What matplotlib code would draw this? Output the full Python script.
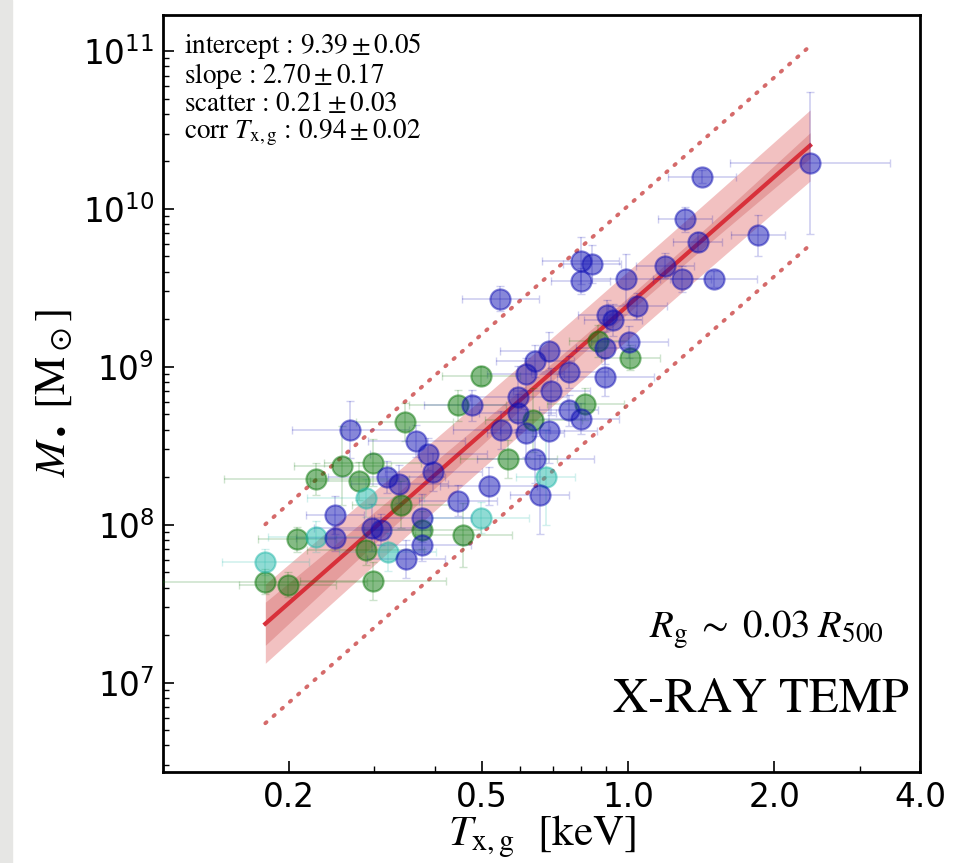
import numpy as np
import matplotlib
matplotlib.use('Agg')
import matplotlib.pyplot as plt
from matplotlib.ticker import FixedLocator, LogLocator, NullFormatter

plt.rcParams['mathtext.fontset'] = 'stix'

# fit results (log10 M = intercept + slope * log10 T)
intercept = 9.39
intercept_err = 0.05
slope = 2.70
slope_err = 0.17
scatter = 0.21

# blue sample: T [keV], M [Msun], errors in dex
T_blue = [0.268, 0.366, 0.318, 0.338, 0.249, 0.249, 0.297, 0.310, 0.349, 0.377,
          0.377, 0.446, 0.516, 0.388, 0.397, 0.478, 0.546, 0.644, 0.657, 0.548,
          0.615, 0.686, 0.592, 0.594, 0.615, 0.644, 0.686, 0.695, 0.757, 0.898,
          0.754, 0.798, 0.905, 0.898, 0.930, 1.006, 1.045, 0.992, 1.19, 1.29,
          1.50, 0.798, 0.844, 0.798, 1.31, 1.39, 1.42, 1.85, 2.37]
M_blue = [4.0e8, 3.4e8, 2.0e8, 1.8e8, 1.15e8, 8.2e7, 9.6e7, 9.3e7, 6.1e7, 1.1e8,
          7.4e7, 1.42e8, 1.77e8, 2.8e8, 2.16e8, 5.7e8, 2.7e9, 2.6e8, 1.55e8, 4.0e8,
          3.8e8, 3.9e8, 5.1e8, 6.4e8, 9.0e8, 1.09e9, 1.26e9, 7.0e8, 9.3e8, 8.6e8,
          5.3e8, 4.7e8, 2.12e9, 1.32e9, 1.98e9, 1.44e9, 2.43e9, 3.6e9, 4.36e9, 3.6e9,
          3.6e9, 4.7e9, 4.5e9, 3.5e9, 8.6e9, 6.2e9, 1.6e10, 6.8e9, 1.95e10]
ex_blue = [.12, .10, .12, .10, .06, .08, .12, .10, .08, .10,
           .10, .08, .10, .12, .10, .10, .08, .12, .06, .10,
           .08, .10, .08, .10, .08, .08, .10, .08, .08, .10,
           .06, .08, .06, .06, .06, .08, .06, .07, .06, .06,
           .09, .08, .06, .06, .055, .05, .07, .055, .165]
ey_blue = [.18, .10, .10, .12, .12, .08, .15, .10, .12, .15,
           .10, .10, .12, .10, .12, .10, .08, .15, .25, .12,
           .15, .20, .12, .20, .10, .10, .12, .15, .10, .12,
           .10, .10, .10, .10, .10, .10, .08, .16, .08, .08,
           .05, .15, .12, .08, .08, .06, .04, .13, .45]

# green sample
T_green = [0.347, 0.258, 0.298, 0.228, 0.279, 0.340, 0.208, 0.288, 0.179, 0.199,
           0.298, 0.377, 0.458, 0.497, 0.446, 0.567, 0.638, 0.817, 1.011, 0.869]
M_green = [4.5e8, 2.36e8, 2.47e8, 1.95e8, 1.9e8, 1.34e8, 8.1e7, 6.95e7, 4.36e7, 4.17e7,
           4.4e7, 9.3e7, 8.6e7, 8.8e8, 5.7e8, 2.6e8, 4.6e8, 5.8e8, 1.14e9, 1.46e9]
ex_green = [.10, .10, .10, .19, .10, .10, .08, .12, .21, .10,
            .15, .12, .10, .08, .10, .10, .10, .08, .06, .06]
ey_green = [.12, .25, .15, .10, .12, .15, .08, .10, .08, .08,
            .12, .12, .20, .06, .10, .12, .20, .10, .08, .10]

# cyan sample
T_cyan = [0.288, 0.228, 0.320, 0.179, 0.497, 0.676]
M_cyan = [1.48e8, 8.4e7, 6.7e7, 5.8e7, 1.11e8, 2.0e8]
ex_cyan = [.12, .10, .10, .09, .10, .06]
ey_cyan = [.12, .10, .12, .08, .10, .30]

xticks = [0.2, 0.5, 1.0, 2.0, 4.0]
xticklabels = ['0.2', '0.5', '1.0', '2.0', '4.0']


def dex_err(vals, dex):
    vals = np.array(vals)
    dex = np.array(dex)
    return np.vstack([vals - vals * 10**(-dex), vals * 10**dex - vals])


fig = plt.figure(figsize=(9.74, 8.63), dpi=100)
fig.patch.set_facecolor('white')
# grey strip at the left edge of the page
fig.patches.append(plt.Rectangle((0, 0), 0.012, 1, transform=fig.transFigure,
                                 color='#e6e6e4', zorder=0))
ax = fig.add_axes([0.167, 0.105, 0.778, 0.878])

# fit line, uncertainty bands and 3-sigma lines
all_T = T_blue + T_green + T_cyan
tt = np.logspace(np.log10(min(all_T)), np.log10(max(all_T)), 200)
lt = np.log10(tt)
lm = intercept + slope * lt
sig_fit = np.sqrt(intercept_err**2 + (slope_err * lt)**2)
sig_tot = np.sqrt(scatter**2 + sig_fit**2)
ax.fill_between(tt, 10**(lm - sig_tot), 10**(lm + sig_tot), color='#e06666',
                alpha=0.4, lw=0, zorder=1)
ax.fill_between(tt, 10**(lm - sig_fit), 10**(lm + sig_fit), color='#c84a4a',
                alpha=0.3, lw=0, zorder=1)
ax.plot(tt, 10**lm, color='#d8303a', lw=3, zorder=2)
for s in (1, -1):
    ax.plot(tt, 10**(lm + s * 3 * scatter), color='#d56a6a', lw=2.8,
            ls=(0, (0.4, 2.4)), dash_capstyle='round', zorder=2)

samples = [(T_green, M_green, ex_green, ey_green, '#0c780c'),
           (T_cyan, M_cyan, ex_cyan, ey_cyan, '#22b8aa'),
           (T_blue, M_blue, ex_blue, ey_blue, '#1010b4')]
for T, M, ex, ey, col in samples:
    ax.errorbar(T, M, xerr=dex_err(T, ex), yerr=dex_err(M, ey), fmt='none',
                ecolor=col, elinewidth=1.2, capsize=3, alpha=0.2, zorder=3)
    ax.plot(T, M, 'o', ms=14.5, color=col, alpha=0.5, mec=col, mew=1.5, zorder=4)

ax.set_xscale('log')
ax.set_yscale('log')
ax.set_xlim(0.11, 4.0)
ax.set_ylim(2.7e6, 1.7e11)
ax.xaxis.set_major_locator(FixedLocator(xticks))
ax.set_xticklabels(xticklabels)
ax.xaxis.set_minor_locator(LogLocator(subs=np.arange(2, 10)))
ax.xaxis.set_minor_formatter(NullFormatter())
ax.tick_params(which='both', direction='in', top=False, right=False, labelsize=23.5)
ax.tick_params(which='major', length=8, width=1.2, pad=6)
ax.tick_params(which='minor', length=4, width=1)
for sp in ax.spines.values():
    sp.set_linewidth(2)

ax.set_xlabel(r'$T_{\rm x,g}$  [keV]', fontsize=31, family='STIXGeneral', labelpad=0)
ax.set_ylabel(r'$M_\bullet$ [M$_\odot$]', fontsize=31, family='STIXGeneral', labelpad=6)

ax.text(0.028, 0.978,
        'intercept : $9.39\\pm0.05$\nslope : $2.70\\pm0.17$\n'
        'scatter : $0.21\\pm0.03$\ncorr $T_{\\rm x,g}$ : $0.94\\pm0.02$',
        transform=ax.transAxes, va='top', ha='left', fontsize=19.5,
        family='STIXGeneral', linespacing=1.0)
ax.text(0.952, 0.188, r'$R_{\rm g}\;\sim\;0.03\;R_{500}$', transform=ax.transAxes,
        ha='right', va='center', fontsize=28)
ax.text(0.985, 0.095, 'X-RAY TEMP', transform=ax.transAxes, ha='right',
        va='center', fontsize=35, family='STIXGeneral')

fig.savefig('out.png', dpi=100)
